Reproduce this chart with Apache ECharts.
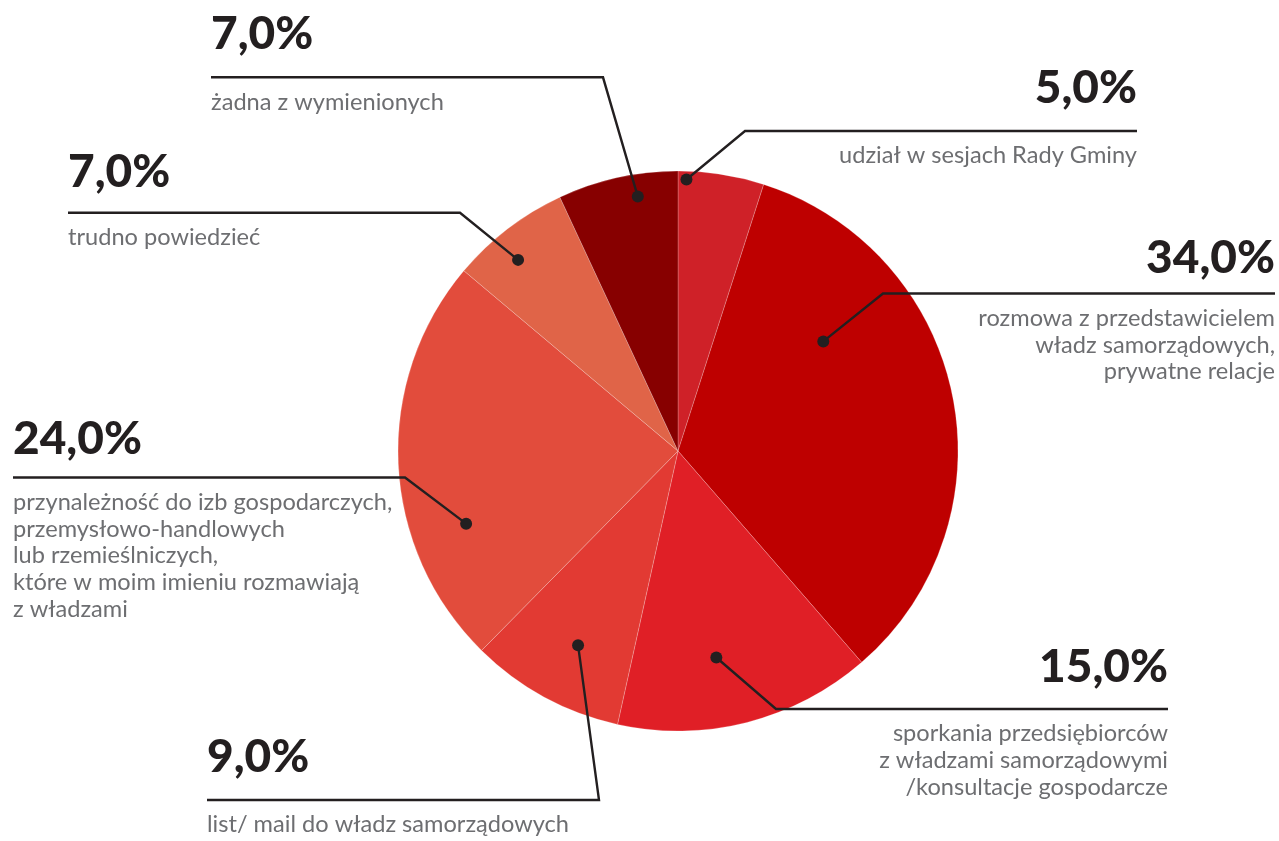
<!DOCTYPE html>
<html lang="pl">
<head>
<meta charset="utf-8">
<title>Formy kontaktu z władzami samorządowymi</title>
<script src="https://cdn.jsdelivr.net/npm/echarts@6/dist/echarts.min.js"></script>
<style>
  html, body { margin: 0; padding: 0; background: #ffffff; }
  #chart { width: 1279px; height: 841px; }
</style>
</head>
<body>
<div id="chart"></div>
<script>
// Slices, clockwise from 12 o'clock
const categories = [
  'udział w sesjach Rady Gminy',
  'rozmowa z przedstawicielem władz samorządowych, prywatne relacje',
  'sporkania przedsiębiorców z władzami samorządowymi /konsultacje gospodarcze',
  'list/ mail do władz samorządowych',
  'przynależność do izb gospodarczych, przemysłowo-handlowych lub rzemieślniczych, które w moim imieniu rozmawiają z władzami',
  'trudno powiedzieć',
  'żadna z wymienionych'
];
const shares = [5, 34, 15, 9, 24, 7, 7];
// Caption text as broken into lines under each rule
const captions = [
  ['udział w sesjach Rady Gminy'],
  ['rozmowa z przedstawicielem', 'władz samorządowych,', 'prywatne relacje'],
  ['sporkania przedsiębiorców', 'z władzami samorządowymi', '/konsultacje gospodarcze'],
  ['list/ mail do władz samorządowych'],
  ['przynależność do izb gospodarczych,', 'przemysłowo-handlowych', 'lub rzemieślniczych,', 'które w moim imieniu rozmawiają', 'z władzami'],
  ['trudno powiedzieć'],
  ['żadna z wymienionych']
];
const sliceColors = ['#cf2128', '#be0000', '#e01f26', '#e23a33', '#e24c3c', '#e06448', '#870000'];

// Callout placement: side of the rule, y of the rule, outer end of the rule,
// marker position inside the slice [fraction of its angle, fraction of radius],
// distance of the value baseline above the rule
const callouts = [
  { side: 'right', lineY: 131,   outerX: 1137, at: [0.10, 0.97], gap: 25 },
  { side: 'right', lineY: 293.5, outerX: 1275, at: [0.29, 0.65], gap: 18 },
  { side: 'right', lineY: 709,   outerX: 1168, at: [0.57, 0.75], gap: 24 },
  { side: 'left',  lineY: 800,   outerX: 207,  at: [0.46, 0.78], gap: 25 },
  { side: 'left',  lineY: 477.5, outerX: 13,   at: [0.31, 0.80], gap: 21 },
  { side: 'left',  lineY: 212.7, outerX: 68,   at: [0.40, 0.89], gap: 23 },
  { side: 'left',  lineY: 77.3,  outerX: 211,  at: [0.64, 0.92], gap: 25 }
];
const RULE_LEN = 392;
const INK = '#231f20';
const CAPTION_INK = '#6d6e71';
const FONT = 'Lato, "Open Sans", sans-serif';

const PCT_SIZE = 46;
const CAP_SIZE = 23.6;
const CAP_LINE = 26.7;
const CAP_DROP = 34;   // rule to first caption baseline

function formatShare(v) {
  return v.toFixed(1).replace('.', ',') + '%';
}

const chart = echarts.init(document.getElementById('chart'), null, { renderer: 'canvas' });

function sliceLayout(i) {
  return chart.getModel().getSeriesByIndex(0).getData().getItemLayout(i);
}

function markerPoint(i) {
  const lay = sliceLayout(i);
  const c = callouts[i];
  const a = lay.startAngle + c.at[0] * (lay.endAngle - lay.startAngle);
  const r = lay.r * c.at[1];
  return [lay.cx + r * Math.cos(a), lay.cy + r * Math.sin(a)];
}

function calloutPath(i) {
  const c = callouts[i];
  const inner = c.side === 'right' ? c.outerX - RULE_LEN : c.outerX + RULE_LEN;
  return [markerPoint(i), [inner, c.lineY], [c.outerX, c.lineY]];
}

const pieData = categories.map((name, i) => ({
  name: name,
  value: shares[i],
  itemStyle: { color: sliceColors[i] }
}));

const pieBase = {
  type: 'pie',
  center: [678, 451],
  radius: 280,
  startAngle: 90,
  clockwise: true,
  avoidLabelOverlap: false,
  emphasis: { disabled: true },
  silent: true,
  animation: false
};

chart.setOption({
  animation: false,
  series: [
    // slices with the share values above each rule
    Object.assign({}, pieBase, {
      name: 'udział',
      z: 2,
      data: pieData,
      itemStyle: { borderColor: 'rgba(255,255,255,0.35)', borderWidth: 0.6 },
      label: {
        show: true,
        position: 'outside',
        formatter: p => formatShare(p.value),
        fontFamily: FONT,
        fontSize: PCT_SIZE,
        fontWeight: 900,
        lineHeight: PCT_SIZE,
        color: INK
      },
      labelLine: { show: false },
      labelLayout: function (p) {
        const c = callouts[p.dataIndex];
        // baseline sits about 0.387em below the middle of the line box
        const baseline = c.lineY - c.gap;
        const bottom = baseline - 0.387 * PCT_SIZE + PCT_SIZE / 2;
        return { x: c.outerX, y: bottom, align: c.side, verticalAlign: 'bottom' };
      }
    }),
    // transparent overlay carrying the captions and the leader lines above the slices
    Object.assign({}, pieBase, {
      name: 'opis',
      z: 5,
      data: categories.map((name, i) => ({ name: name, value: shares[i] })),
      itemStyle: { color: 'rgba(0,0,0,0)', borderWidth: 0 },
      label: {
        show: true,
        position: 'outside',
        formatter: p => captions[p.dataIndex].join('\n'),
        fontFamily: FONT,
        fontSize: CAP_SIZE,
        fontWeight: 400,
        lineHeight: CAP_LINE,
        color: CAPTION_INK
      },
      labelLine: {
        show: true,
        showAbove: true,
        lineStyle: { color: INK, width: 2.4 }
      },
      labelLayout: function (p) {
        const c = callouts[p.dataIndex];
        const firstBaseline = c.lineY + CAP_DROP;
        const top = firstBaseline - 0.387 * CAP_SIZE - CAP_LINE / 2;
        return {
          x: c.outerX,
          y: top,
          align: c.side,
          verticalAlign: 'top',
          labelLinePoints: calloutPath(p.dataIndex)
        };
      }
    })
  ]
});

// Markers where each callout leaves its slice
chart.setOption({
  graphic: categories.map((name, i) => {
    const pt = markerPoint(i);
    return {
      type: 'circle',
      silent: true,
      z: 100,
      shape: { cx: pt[0], cy: pt[1], r: 6 },
      style: { fill: INK }
    };
  })
});
</script>
</body>
</html>
